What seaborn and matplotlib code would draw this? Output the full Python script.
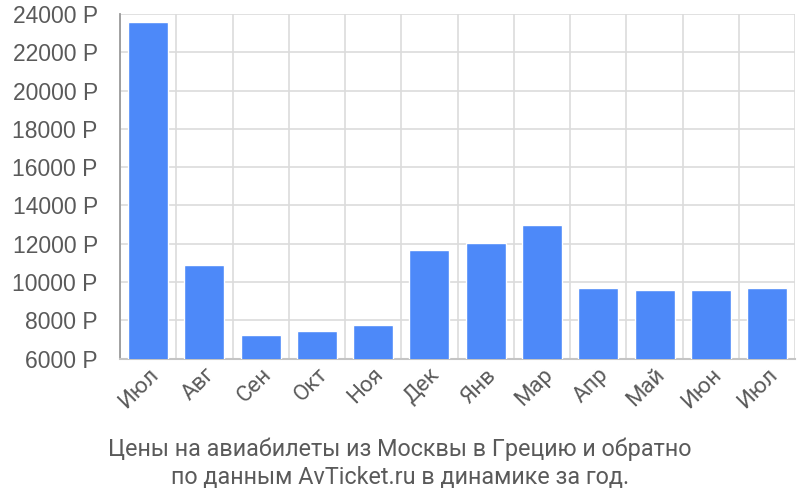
import pandas as pd
import matplotlib
matplotlib.use('Agg')
import matplotlib.pyplot as plt
import seaborn as sns
from matplotlib.ticker import FixedLocator

# Data
months = ['Июл', 'Авг', 'Сен', 'Окт', 'Ноя', 'Дек', 'Янв', 'Мар', 'Апр', 'Май', 'Июн', 'Июл']
prices = [23600, 10900, 7240, 7460, 7770, 11690, 12010, 13000, 9660, 9600, 9600, 9690]
yticks = [6000, 8000, 10000, 12000, 14000, 16000, 18000, 20000, 22000, 24000]

caption = 'Цены на авиабилеты из Москвы в Грецию и обратно\nпо данным AvTicket.ru в динамике за год.'

text_color = '#5a5a5a'
grid_color = '#dcdcdc'
bar_color = '#4d89f9'

sns.set_style('white')
plt.rcParams['font.family'] = ['Liberation Sans', 'DejaVu Sans']

df = pd.DataFrame({'idx': list(range(len(months))), 'price': prices})

fig = plt.figure(figsize=(8, 5), dpi=100)
ax = fig.add_axes([0.15, 0.283, 0.844, 0.689])

sns.barplot(data=df, x='idx', y='price', color=bar_color, width=0.71,
            saturation=1, ax=ax, zorder=3)

ax.set_ylim(6000, 24000)
ax.set_xlim(-0.5, len(months) - 0.5)
ax.set_yticks(yticks)
ax.set_yticklabels([f'{v} P' for v in yticks], fontsize=16.5, color=text_color)
ax.tick_params(axis='y', length=15, width=1.2, color=grid_color, pad=1)

ax.set_xticks(range(len(months)))
ax.set_xticklabels(months, rotation=45, ha='right', rotation_mode='anchor',
                   fontsize=16, color=text_color, family=['Roboto', 'DejaVu Sans'])
ax.tick_params(axis='x', which='major', length=0, pad=4)
ax.xaxis.set_minor_locator(FixedLocator([i - 0.5 for i in range(len(months) + 1)]))
ax.tick_params(axis='x', which='minor', length=8, width=1.2, color=grid_color)

ax.grid(axis='y', which='major', color=grid_color, lw=1.2, zorder=0)
ax.grid(axis='x', which='minor', color=grid_color, lw=1.2, zorder=0)
ax.set_axisbelow(True)

ax.set_xlabel('')
ax.set_ylabel('')
for s in ['top', 'right']:
    ax.spines[s].set_visible(False)
ax.spines['left'].set_color('#9a9a9a')
ax.spines['left'].set_linewidth(1.3)
ax.spines['bottom'].set_color('#c4c4c4')
ax.spines['bottom'].set_linewidth(1.5)

fig.text(0.5, 0.073, caption, ha='center', va='center', fontsize=16.8,
         color=text_color, family=['Roboto', 'DejaVu Sans'], linespacing=1.3)

fig.savefig('out.png', dpi=100)
